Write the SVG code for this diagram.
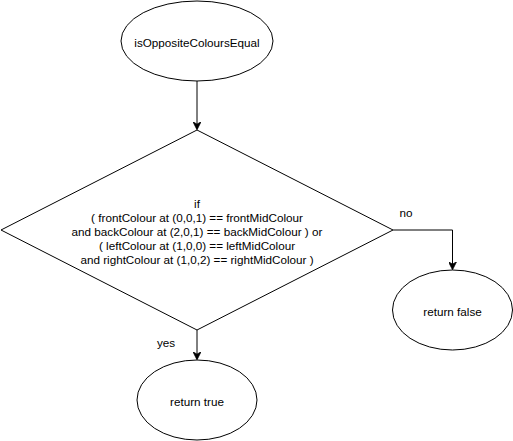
<svg xmlns="http://www.w3.org/2000/svg" width="513" height="441" viewBox="0 0 513 441">
  <style>
    .shape { fill: #ffffff; stroke: #000000; stroke-width: 1; }
    .edge { fill: none; stroke: #000000; stroke-width: 1; }
    text { font-family: "Liberation Sans", Arial, Helvetica, sans-serif; font-size: 11.7px; fill: #000000; text-anchor: middle; dominant-baseline: central; }
  </style>
  <defs>
    <marker id="arrow" viewBox="0 0 10 10" refX="9" refY="5" markerWidth="8" markerHeight="8" markerUnits="userSpaceOnUse" orient="auto">
      <path d="M0,0 L10,5 L0,10 L3,5 Z" fill="#000000" stroke="#000000" stroke-width="1"/>
    </marker>
  </defs>
  <rect width="513" height="441" fill="#ffffff"/>

  <g id="connectors">
    <path class="edge" d="M197,81 L197,129" marker-end="url(#arrow)"/>
    <path class="edge" d="M393,230 L452.5,230 L452.5,269" marker-end="url(#arrow)"/>
    <path class="edge" d="M197,330 L197,359" marker-end="url(#arrow)"/>
    <text x="406" y="212">no</text>
    <text x="166" y="342">yes</text>
  </g>

  <g id="start">
    <ellipse class="shape" cx="197" cy="41" rx="76" ry="40"/>
    <text x="197" y="42">isOppositeColoursEqual</text>
  </g>

  <g id="decision">
    <polygon class="shape" points="1,230 197,130 393,230 197,330"/>
    <text x="197" y="203">if</text>
    <text x="197" y="217">( frontColour at (0,0,1) == frontMidColour</text>
    <text x="197" y="231">and backColour at (2,0,1) == backMidColour ) or</text>
    <text x="197" y="245">( leftColour at (1,0,0) == leftMidColour</text>
    <text x="197" y="259">and rightColour at (1,0,2) == rightMidColour )</text>
  </g>

  <g id="return-false">
    <ellipse class="shape" cx="452.5" cy="310" rx="60" ry="40"/>
    <text x="452.5" y="311">return false</text>
  </g>

  <g id="return-true">
    <ellipse class="shape" cx="197" cy="400" rx="60" ry="40"/>
    <text x="197" y="401">return true</text>
  </g>
</svg>
